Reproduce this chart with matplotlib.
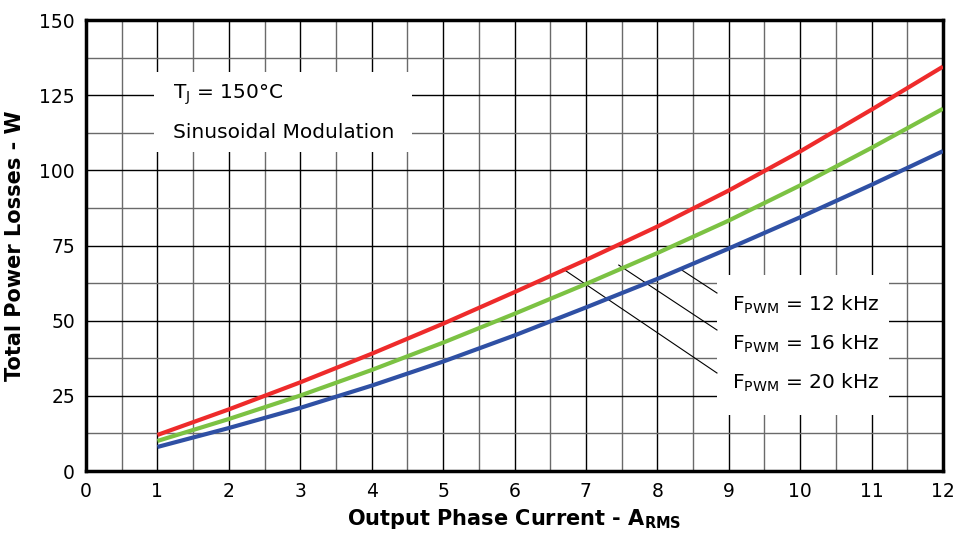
import matplotlib.pyplot as plt
from matplotlib.patches import Rectangle
from matplotlib.ticker import MultipleLocator

current = [1, 2, 3, 4, 5, 6, 7, 8, 9, 10, 11, 12]
loss_20k = [12, 20.5, 29.5, 39, 49, 59.5, 70.2, 81.3, 93.3, 106.3, 120.2, 134.5]
loss_16k = [10, 17.3, 25.1, 33.6, 42.7, 52.3, 62.2, 72.5, 83.3, 95, 107.5, 120.5]
loss_12k = [8, 14.3, 21, 28.4, 36.4, 45.1, 54.4, 63.9, 74, 84.4, 95.2, 106.4]

labels = [r'F$_{\mathrm{PWM}}$ = 12 kHz',
          r'F$_{\mathrm{PWM}}$ = 16 kHz',
          r'F$_{\mathrm{PWM}}$ = 20 kHz']

fig = plt.figure(figsize=(9.59, 5.47), dpi=100)
ax = fig.add_axes([0.0897, 0.1389, 0.8936, 0.8245])

ax.set_xlim(0, 12)
ax.set_ylim(0, 150)
ax.xaxis.set_major_locator(MultipleLocator(1))
ax.xaxis.set_minor_locator(MultipleLocator(0.5))
ax.yaxis.set_major_locator(MultipleLocator(25))
ax.yaxis.set_minor_locator(MultipleLocator(12.5))
ax.grid(which='major', color='black', linewidth=1)
ax.grid(which='minor', color='#6a6a6a', linewidth=1)
ax.set_axisbelow(True)
ax.tick_params(which='both', length=0, labelsize=13.5, pad=8)
for s in ax.spines.values():
    s.set_linewidth(2.5)

ax.plot(current, loss_20k, color='#ee2b2b', lw=3, solid_capstyle='butt', zorder=3)
ax.plot(current, loss_16k, color='#7cc243', lw=3, solid_capstyle='butt', zorder=3)
ax.plot(current, loss_12k, color='#2f50a4', lw=3, solid_capstyle='butt', zorder=3)

# white boxes that break the grid
ax.add_patch(Rectangle((0.95, 106.1), 3.61, 26.6, facecolor='white', edgecolor='none', zorder=2))
ax.add_patch(Rectangle((8.835, 18.6), 2.405, 46.6, facecolor='white', edgecolor='none', zorder=2))

ax.text(1.22, 125, r'T$_{\mathrm{J}}$ = 150°C', fontsize=14.5, va='center', zorder=4)
ax.text(1.22, 112.7, 'Sinusoidal Modulation', fontsize=14.5, va='center', zorder=4)

# leader lines to the labels
ax.plot([8.345, 8.835], [66.8, 59.2], color='black', lw=0.8, zorder=2.5)
ax.plot([7.46, 8.835], [68.5, 46.9], color='black', lw=0.8, zorder=2.5)
ax.plot([6.68, 8.835], [67.2, 32.6], color='black', lw=0.8, zorder=2.5)
ax.text(9.045, 55.2, labels[0], fontsize=14.5, va='center', zorder=4)
ax.text(9.045, 42.2, labels[1], fontsize=14.5, va='center', zorder=4)
ax.text(9.045, 29.3, labels[2], fontsize=14.5, va='center', zorder=4)

ax.set_xlabel(r'Output Phase Current - A$_{\mathbf{RMS}}$', fontsize=15, fontweight='bold', labelpad=4)
ax.set_ylabel('Total Power Losses - W', fontsize=15, fontweight='bold', labelpad=10)

fig.savefig('out.png', dpi=100)
